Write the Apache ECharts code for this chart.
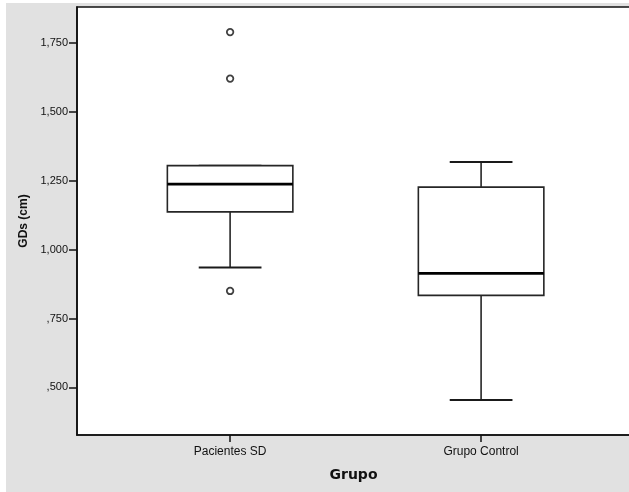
<!DOCTYPE html>
<html>
<head>
<meta charset="utf-8">
<script src="https://cdn.jsdelivr.net/npm/echarts@6/dist/echarts.min.js"></script>
<style>
  html, body { margin: 0; padding: 0; background: #ffffff; overflow: hidden; }
  #chart { position: absolute; left: 6px; top: 3px; width: 640px; height: 489px; }
</style>
</head>
<body>
<div id="chart"></div>
<script>
// Groups on the horizontal axis
const categories = ['Pacientes SD', 'Grupo Control'];

// Box statistics per group: lower whisker, Q1, median, Q3, upper whisker
const lowerWhisker = [0.935, 0.454];
const q1 = [1.137, 0.834];
const median = [1.238, 0.914];
const q3 = [1.305, 1.227];
const upperWhisker = [1.305, 1.318];

// Outliers: group index and value
const outlierGroup = [0, 0, 0];
const outlierValue = [0.850, 1.621, 1.790];

// Vertical axis ticks (Spanish decimal format)
const yTickValues = [0.5, 0.75, 1.0, 1.25, 1.5, 1.75];
const yTickLabels = [',500', ',750', '1,000', '1,250', '1,500', '1,750'];

const boxData = categories.map((c, i) => [i + 1, lowerWhisker[i], q1[i], median[i], q3[i], upperWhisker[i]]);
const outlierData = outlierValue.map((v, i) => [outlierGroup[i] + 1, v]);

const BOX_HALF = 0.25;   // half box width, in axis units
const CAP_HALF = 0.125;  // half whisker-cap width, in axis units

function renderBox(params, api) {
  const x = api.value(0);
  const lo = api.value(1), a = api.value(2), m = api.value(3), b = api.value(4), hi = api.value(5);
  const pLo = api.coord([x, lo]), pA = api.coord([x, a]), pM = api.coord([x, m]);
  const pB = api.coord([x, b]), pHi = api.coord([x, hi]);
  const bxL = api.coord([x - BOX_HALF, a])[0], bxR = api.coord([x + BOX_HALF, a])[0];
  const cL = api.coord([x - CAP_HALF, a])[0], cR = api.coord([x + CAP_HALF, a])[0];
  const cx = pA[0];
  const thin = { stroke: '#262626', lineWidth: 1.6, fill: null };
  const cap = { stroke: '#1a1a1a', lineWidth: 2 };
  return {
    type: 'group',
    children: [
      { type: 'line', shape: { x1: cx, y1: pA[1], x2: cx, y2: pLo[1] }, style: thin },
      { type: 'line', shape: { x1: cx, y1: pB[1], x2: cx, y2: pHi[1] }, style: thin },
      { type: 'line', shape: { x1: cL, y1: pLo[1], x2: cR, y2: pLo[1] }, style: cap },
      { type: 'line', shape: { x1: cL, y1: pHi[1], x2: cR, y2: pHi[1] }, style: cap },
      { type: 'rect', shape: { x: bxL, y: pB[1], width: bxR - bxL, height: pA[1] - pB[1] },
        style: { stroke: '#262626', lineWidth: 1.6, fill: '#ffffff' } },
      { type: 'line', shape: { x1: bxL, y1: pM[1], x2: bxR, y2: pM[1] },
        style: { stroke: '#000000', lineWidth: 2.8 } }
    ]
  };
}

const chart = echarts.init(document.getElementById('chart'), null, { renderer: 'canvas' });
chart.setOption({
  backgroundColor: '#e1e1e1',
  animation: false,
  grid: {
    left: 71, top: 4, right: 0, bottom: 57,
    show: true, backgroundColor: '#ffffff',
    borderColor: '#111111', borderWidth: 1.6
  },
  xAxis: {
    type: 'value',
    min: 0.39, max: 2.657,
    name: 'Grupo',
    nameLocation: 'middle',
    nameGap: 33,
    nameTextStyle: { fontFamily: 'DejaVu Sans', fontWeight: 'bold', fontSize: 14, color: '#111', padding: [0, 16, 0, 0] },
    axisLine: { show: true, lineStyle: { color: '#111', width: 1.6 } },
    axisTick: { show: true, length: 7, customValues: [1, 2], lineStyle: { color: '#111', width: 1.5 } },
    axisLabel: {
      customValues: [1, 2],
      formatter: v => categories[Math.round(v) - 1] || '',
      fontFamily: 'Liberation Sans', fontSize: 12, color: '#111', margin: 11
    },
    splitLine: { show: false }
  },
  yAxis: {
    type: 'value',
    min: 0.327, max: 1.881,
    name: 'GDs (cm)',
    nameLocation: 'middle',
    nameGap: 44,
    nameTextStyle: { fontFamily: 'Liberation Sans', fontWeight: 'bold', fontSize: 12, color: '#111' },
    axisLine: { show: true, lineStyle: { color: '#111', width: 1.6 } },
    axisTick: { show: true, length: 8, customValues: yTickValues, lineStyle: { color: '#111', width: 1.5 } },
    axisLabel: {
      customValues: yTickValues,
      formatter: v => {
        const i = yTickValues.findIndex(t => Math.abs(t - v) < 1e-6);
        return i >= 0 ? yTickLabels[i] : '';
      },
      fontFamily: 'Liberation Sans', fontSize: 11, color: '#111', margin: 9
    },
    splitLine: { show: false }
  },
  series: [
    {
      type: 'custom',
      renderItem: renderBox,
      encode: { x: 0, y: [1, 2, 3, 4, 5] },
      data: boxData,
      clip: false
    },
    {
      type: 'scatter',
      data: outlierData,
      symbol: 'circle',
      symbolSize: 6.5,
      itemStyle: { color: '#ffffff', borderColor: '#111111', borderWidth: 1.8 }
    }
  ]
});
</script>
</body>
</html>
